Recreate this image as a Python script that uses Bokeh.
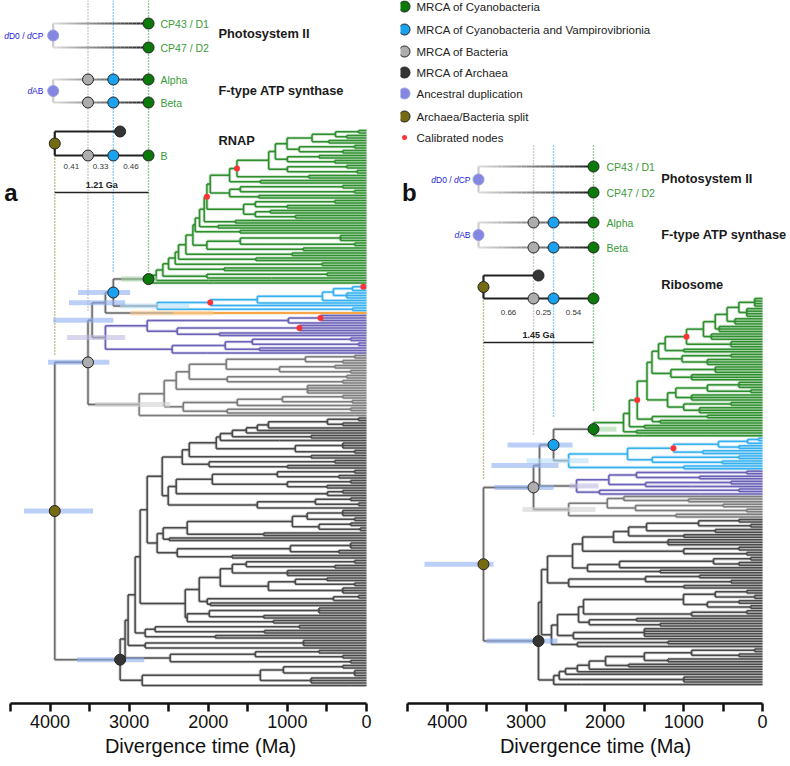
import re
from bokeh.plotting import figure
from bokeh.layouts import row
from bokeh.models import Range1d, FixedTicker, ColumnDataSource
from bokeh.core.properties import value
from bokeh.embed import file_html
from bokeh.resources import INLINE

FONT = value("Liberation Sans")

# Tree notation: "(children)age"  child = subtree or integer k (= k tips at 0 Ma)
# flags after age: ! calibrated node, @m MRCA marker, =c clade colour, {lo:hi:c} 95% HPD interval

def spine(start, ages, sides):
    s = start
    for a, sd in zip(ages, sides):
        s = "(" + s + "," + sd + ")" + str(a)
    return s

# ---------------- panel a (RNAP) ----------------
GA_TOP = "((((((2)100,(2)250)392,(2)477)688,((2)150,(2)300)850)1004,((2)600,(2)400)1000)1152,((2)250,(2)120)1000)1236"
GA_RED1 = "(" + GA_TOP + ",(2)730)1637!"
GA_UP = "(" + GA_RED1 + ",(2)1342)1730"
GA_LO = "(((2)300,(2)150)1595,(2)1363)1730"
GA_RED2 = "((" + GA_UP + "," + GA_LO + ")1975,(((2)400,(2)1004)1405,((2)1215,(2)900)1405)1553)2017!"
GA_SPINE_AGES = [2051, 2110, 2165, 2194, 2283, 2376, 2418, 2502, 2574, 2658, 2755]
GA_SPINE_SIDES = ["(2)1658", "(2)1877", "(2)1600", "(((3)329,(2)150)1595,(2)800)2017", "(2)941",
                  "(2)1400", "(2)561", "(2)1800", "((2)500,(1)1200)2017", "(1)1996", "(1)1932"]
GREEN_A = spine(GA_RED2, GA_SPINE_AGES, GA_SPINE_SIDES)
BLUE_A = "(((((((2)40!,1)177,(3)250)418,1)557,1)1380,1)1975!,(2)177)2646"
ORANGE_A = "(1)2443"
PURPLE_A = "((((3)582!,1)987,((3)848!,(2)1860)2392)2772,((((2)200,(2)100)1443,(2)1354)1785,(1)2013)2456)3300"
LA_2405 = "(((((2)150,(2)300)772,((2)400,(2)200)1100)1772,((2)250,(2)300)1760)2240,(4)747)2405"
LA_2316 = "((((2)300,(2)180)1063,(1)600)1633,((2)200,(1)400)1760)2316"
LG_A = "((" + LA_2405 + "," + LA_2316 + ")2557,(1)150)2873"
AU_TOP = spine("((2)100,(2)300)494", [1240, 1380, 1519, 1696, 1848, 1899, 2240, 2329],
               ["1", "1", "1", "(2)700", "(1)1100", "((3)300,(2)150)900", "(2)700", "((2)400,(2)1000)1990"])
AU_BOT = "(((((2)150,(2)350)1127,((2)200,(2)500)1000)1949,((2)300,1)494)2405,(((2)200,(2)100)646,1)1380)2506"
AS5 = "(" + spine("(((3)300,(2)150)750,((2)200,(2)80)600)937", [2266, 2570], ["(2)1300", "(2)2494"]) + \
      ",(((3)200,(2)350)962,(2)1700)2392)2646"
AS4 = "(((" + "(((2)150,(2)400)1520,(3)1000)1696" + "," + "(((2)500,(2)150)900,(3)300)1240" + ")1848," + \
      "(((2)100,(1)400)418,(2)1975)2013" + ")2114," + "(((3)600,(2)1300)1987,(2)1177)2266" + ")2291"
A5 = "((" + AU_TOP + "," + AU_BOT + ")2582," + AS5 + ")2772"
ARCH_A = spine(A5, [2861, 2924, 3013, 3051, 3114],
               [AS4, "(((2)850,(2)1290)2671,(2)1911)2797", "((3)797,1)2797",
                "(((2)600,(2)300)1405,(2)200)2481", "((((2)300,(3)150)1050,(3)700)1342,(1)200)2835"])
TREE_A = ("(((((" + GREEN_A + "=g@g{3100:2650:lg}," + BLUE_A + "=c{3114:2240:hb2})3200@b{3646:2987:hb}," +
          ORANGE_A + "=r{2987:1937:lo})3300{3760:3050:hb}," + PURPLE_A + "=p{3785:3050:lav})3468{3960:3200:hb}," +
          LG_A + "=l{3430:2480:lgr})3520@s{4025:3250:hb}," + ARCH_A + "=k@k{3658:2810:hb})3940@o{4329:3456:hb}")

# ---------------- panel b (Ribosome) ----------------
GB_TOP = spine("((4)100,(4)200)300", ["450", "600", "750", "965!"], ["(3)350", "(3)550", "(3)650", "(3)400"])
GREEN_B = spine(GB_TOP, ["1235", "1320", "1403", "1466", "1590!", "1690", "1764", "2145"],
                ["(2)1000", "((2)400,(3)700)1021", "((3)600,(3)900)1163",
                 "((((3)300,(2)150)700,(3)900)1100,((2)400,(3)800)1000)1205",
                 "((2)700,(2)1300)1400", "(2)1500", "(2)1600", "(1)1510"])
BLUE_B = "((((((2)50,1)190,(2)300)560,(2)760)1130!,((2)300,(2)510)1400)1713,(2)1000)2460"
PURPLE_B = "((((2)200,(2)800)1600,((2)400,(1)900)1485)1950,((2)300,(1)800)2070)2360"
LG_B = "((((1)300,(2)940)1760,((2)500,(2)200)1612)1970,(2)1100)2460"
BU_UU = "((" + spine("((2)300,(2)150)812", [1472, 1700, 1891, 2284],
                     ["(2)600", "(2)1000", "(3)1200", "((2)300,(2)200)1000"]) + \
        ",((((2)150,(2)300)622,1)1815,(2)1300)2221)2411,(((2)800,(2)400)1485,(2)1000)2460)2729"
BU_UL = spine("(((2)200,(2)100)600,((2)300,(2)150)700)1003", [2272, 2335, 2602, 2678],
              ["((2)200,(1)500)900", "((2)1600,(2)1300)2200", "((4)1500,(1)2000)2400", "((2)1200,(1)2000)2350"])
BU_BOT = spine("((2)100,(2)300)900", [1500, 1992, 2200, 2350, 2500, 2580, 2650],
               ["(2)1200", "(2)1700", "1", "1", "1", "(3)1000", "(1)2300"])
ARCH_B = "((" + BU_UU + "," + BU_UL + ")2805," + BU_BOT + ")2843"
TREE_B = ("((((" + GREEN_B + "=g@g{2145:1853:lg}," + BLUE_B + "=c{2995:2208:hb2})2652@b{3236:2411:hb}," +
          PURPLE_B + "=p{2450:2080:lav})2830{3440:2590:hb}," + LG_B + "=l{3046:2119:lgr})2906@s{3400:2650:hb}," +
          ARCH_B + "=k@k{3503:2602:hb})3541@o{4289:3414:hb}")

DUP_AGE = {"a": 3960, "b": 3604}
SCALE_TXT = {"a": "1.21 Ga", "b": "1.45 Ga"}
BRANCH_TXT = {"a": ["0.41", "0.33", "0.46"], "b": ["0.66", "0.25", "0.54"]}
GENES = [["CP43 / D1", "CP47 / D2"], ["Alpha", "Beta"]]
THIRD = {"a": ("RNAP", "B"), "b": ("Ribosome", "")}
TITLES = ["Photosystem II", "F-type ATP synthase"]
LEG_LABELS = ["MRCA of Cyanobacteria", "MRCA of Cyanobacteria and Vampirovibrionia", "MRCA of Bacteria",
              "MRCA of Archaea", "Ancestral duplication", "Archaea/Bacteria split", "Calibrated nodes"]
LEG_KEYS = ["g", "b", "s", "k", "d", "o", "cal"]
TICKS = [0, 1000, 2000, 3000, 4000]
MINOR = [500, 1500, 2500, 3500, 4500]

# ---------------- styling ----------------
CLADE = {"t": "#6b6b6b", "g": "#2f8f2f", "c": "#36b0ef", "r": "#f5921e", "p": "#6a62b6", "l": "#7d7d7d", "k": "#4a4a4a"}
BARC = {"hb": "#8fb0f2", "hb2": "#b8defa", "lg": "#a3d3a3", "lav": "#bdbbe0", "lgr": "#d2d2d2", "lo": "#f9cf98"}
MK = {"g": "#0b7a0b", "b": "#1aa2ef", "s": "#adadad", "k": "#353535", "o": "#746b12", "d": "#8487e0", "cal": "#ff3333"}
GUIDE = {"o": "#8c7f22", "s": "#9a9a9a", "b": "#1aa2ef", "g": "#2a9a2a"}
LBL_GREEN = "#3a9a3a"
DUP_BLUE = "#2424d6"


def parse(s):
    s = s.replace(" ", "")
    st = {"p": 0}

    def num():
        m = re.match(r"\d+(\.\d+)?", s[st["p"]:])
        st["p"] += len(m.group())
        return float(m.group())

    def node():
        st["p"] += 1
        kids = []
        while True:
            if s[st["p"]] == "(":
                kids.append(node())
            else:
                kids.append(int(num()))
            c = s[st["p"]]
            st["p"] += 1
            if c == ")":
                break
        nd = {"age": num(), "kids": kids, "cal": False, "mk": None, "col": None, "bar": None}
        while st["p"] < len(s) and s[st["p"]] in "!@={":
            c = s[st["p"]]
            if c == "!":
                nd["cal"] = True
                st["p"] += 1
            elif c == "@":
                nd["mk"] = s[st["p"] + 1]
                st["p"] += 2
            elif c == "=":
                nd["col"] = s[st["p"] + 1]
                st["p"] += 2
            else:
                e = s.index("}", st["p"])
                lo, hi, bc = s[st["p"] + 1:e].split(":")
                nd["bar"] = (float(lo), float(hi), bc)
                st["p"] = e + 1
        return nd

    t = node()
    assert st["p"] == len(s), (st["p"], len(s))
    return t


def count(nd):
    return sum(k if isinstance(k, int) else count(k) for k in nd["kids"])


def layout_tree(tree, y_top, y_bot):
    n = count(tree)
    step = (y_bot - y_top) / (n - 1)
    state = {"i": 0}
    segs = {"x0": [], "y0": [], "x1": [], "y1": [], "c": []}
    marks, cals, bars = [], [], []

    def seg(a, b, c, d, col):
        segs["x0"].append(a); segs["y0"].append(b); segs["x1"].append(c); segs["y1"].append(d)
        segs["c"].append(CLADE[col])

    def rec(nd, col):
        col = nd["col"] or col
        ys = []
        for k in nd["kids"]:
            if isinstance(k, int):
                for _ in range(k):
                    y = y_top + state["i"] * step
                    state["i"] += 1
                    seg(nd["age"], y, 0, y, col)
                    ys.append(y)
            else:
                y = rec(k, col)
                seg(nd["age"], y, k["age"], y, col)
                ys.append(y)
        seg(nd["age"], min(ys), nd["age"], max(ys), col)
        y = (min(ys) + max(ys)) / 2
        if nd["mk"]:
            marks.append((nd["age"], y, nd["mk"]))
        if nd["cal"]:
            cals.append((nd["age"], y))
        if nd["bar"]:
            bars.append((nd["bar"][0], nd["bar"][1], y, nd["bar"][2]))
        return y

    rec(tree, "t")
    return segs, marks, cals, bars


def txt(p, x, y, t, size, color="#222222", align="left", style="normal"):
    p.text(x=[x], y=[y], text=[t], text_font=FONT, text_font_size=value(size), text_color=color,
           text_align=align, text_baseline="middle", text_font_style=style)


def grad(p, a0, a1, y, c0=(222, 222, 222), c1=(28, 28, 28), n=24, w=2.2):
    xs = [a0 + (a1 - a0) * i / n for i in range(n + 1)]
    cols = ["#%02x%02x%02x" % tuple(int(c0[j] + (c1[j] - c0[j]) * (i + 0.5) / n) for j in range(3)) for i in range(n)]
    p.segment(xs[:-1], [y] * n, xs[1:], [y] * n, line_color=cols, line_width=w)


CW = {"d": 0.556, "D": 0.722, "0": 0.556, " ": 0.278, "/": 0.278, "C": 0.722, "P": 0.667, "A": 0.667, "B": 0.667}


def dup_label(p, x_end, y, pieces, size_px, ma_per_px):
    x = x_end
    for t, sty in reversed(pieces):
        txt(p, x, y, t, "%.1fpx" % size_px, DUP_BLUE, "right", sty)
        x += sum(CW[c] for c in t) * size_px * ma_per_px


def make_panel(key, tree_str, xr, y_tip, cfg):
    p = figure(frame_width=cfg["fw"], frame_height=703, x_range=Range1d(*xr), y_range=Range1d(703, 0),
               output_backend="svg", toolbar_location=None, y_axis_location=None, min_border=0,
               outline_line_color=None)
    p.xgrid.visible = False
    p.ygrid.visible = False
    ax = p.xaxis[0]
    ax.ticker = FixedTicker(ticks=TICKS, minor_ticks=MINOR)
    ax.bounds = (0, 4500)
    ax.axis_line_width = 2.5
    ax.axis_line_color = "#111111"
    for a in ("major", "minor"):
        setattr(ax, a + "_tick_line_width", 2.5)
        setattr(ax, a + "_tick_line_color", "#111111")
        setattr(ax, a + "_tick_out", 8)
        setattr(ax, a + "_tick_in", 0)
    ax.major_label_text_font = "Liberation Sans"
    ax.major_label_text_font_size = "18px"
    ax.major_label_text_color = "#111111"
    ax.major_label_standoff = 3
    ax.axis_label = "Divergence time (Ma)"
    ax.axis_label_text_font = "Liberation Sans"
    ax.axis_label_text_font_size = "20px"
    ax.axis_label_text_font_style = "normal"
    ax.axis_label_text_color = "#111111"
    ax.axis_label_standoff = 4

    tree = parse(tree_str)
    segs, marks, cals, bars = layout_tree(tree, *y_tip)
    mk = {m: a for a, y, m in marks}
    mk["d"] = DUP_AGE[key]
    mpp = cfg["mpp"]

    # dotted guides
    for g, y0, y1 in cfg["guides"]:
        p.segment([mk[g]], [y0], [mk[g]], [y1], line_color=GUIDE[g], line_width=1.4, line_dash="1 2")

    # tree (soft halo + line)
    src = ColumnDataSource(segs)
    p.segment(x0="x0", y0="y0", x1="x1", y1="y1", line_color="c", line_width=3.2, line_alpha=0.28, source=src)
    p.segment(x0="x0", y0="y0", x1="x1", y1="y1", line_color="c", line_width=1.5, source=src)
    p.segment([b[0] for b in bars], [b[2] for b in bars], [b[1] for b in bars], [b[2] for b in bars],
              line_color=[BARC[b[3]] for b in bars], line_width=5, line_alpha=0.6)
    p.scatter([c[0] for c in cals], [c[1] for c in cals], size=6, color=MK["cal"], line_color=None)
    p.scatter([m[0] for m in marks], [m[1] for m in marks], size=11, fill_color=[MK[m[2]] for m in marks],
              line_color="#222222", line_width=1)

    # insets
    (y1, y2), (y3, y4), (y5, y6) = cfg["rows"]
    d = mk["d"]
    for ya, yb, chain in ((y1, y2, ["g"]), (y3, y4, ["s", "b", "g"])):
        p.segment([d], [ya], [d], [yb], line_color="#cccccc", line_width=2.2)
        grad(p, d, mk["g"], ya)
        grad(p, d, mk["g"], yb)
        for c in chain:
            p.scatter([mk[c], mk[c]], [ya, yb], size=11, fill_color=MK[c], line_color="#222222", line_width=1)
        p.scatter([d], [(ya + yb) / 2], size=11, fill_color=MK["d"], line_color="#9c9ee8", line_width=1)
    o = mk["o"]
    p.segment([o, o, o], [y5, y5, y6], [o, mk["k"], mk["g"]], [y6, y5, y6], line_color="#222222", line_width=2.2)
    p.scatter([o, mk["k"], mk["s"], mk["b"], mk["g"]], [(y5 + y6) / 2, y5, y6, y6, y6], size=11,
              fill_color=[MK["o"], MK["k"], MK["s"], MK["b"], MK["g"]], line_color="#222222", line_width=1)
    chain = [o, mk["s"], mk["b"], mk["g"]]
    for i, t in enumerate(BRANCH_TXT[key]):
        txt(p, (chain[i] + chain[i + 1]) / 2, cfg["num_y"], t, "8px", "#333333", "center")
    p.segment([o], [cfg["bar_y"]], [mk["g"]], [cfg["bar_y"]], line_color="#222222", line_width=1.3)
    txt(p, (o + mk["g"]) / 2, cfg["bar_y"] - 8, SCALE_TXT[key], "9px", "#222222", "center", "bold")

    lx = cfg["lbl_x"]
    for (ta, tb), (ya, yb) in zip(GENES, ((y1, y2), (y3, y4))):
        txt(p, lx, ya, ta, "10.5px", LBL_GREEN)
        txt(p, lx, yb, tb, "10.5px", LBL_GREEN)
    if THIRD[key][1]:
        txt(p, lx, y6, THIRD[key][1], "10.5px", LBL_GREEN)
    tx = cfg["title_x"]
    for t, y in zip(TITLES + [THIRD[key][0]], cfg["title_y"]):
        txt(p, tx, y, t, "12.8px", "#1a1a1a", "left", "bold")
    dup_label(p, cfg["dup_x"], (y1 + y2) / 2, [("d", "italic"), ("D0 / ", "normal"), ("d", "italic"), ("CP", "normal")], 8.5, mpp)
    dup_label(p, cfg["dup_x"], (y3 + y4) / 2, [("d", "italic"), ("AB", "normal")], 8.5, mpp)
    txt(p, cfg["letter_x"], 192, key, "24px", "#111111", "left", "bold")
    return p, mk


cfg_a = dict(fw=400, mpp=12.64, guides=[("o", 155, 355), ("s", 0, 312), ("b", 0, 272), ("g", 0, 272)],
             rows=[(23, 47), (79, 102), (131, 155)], num_y=166, bar_y=192, lbl_x=2604, title_x=1871,
             title_y=[33, 90, 140], dup_x=4083, letter_x=4580)
cfg_b = dict(fw=390, mpp=12.69, guides=[("o", 300, 478), ("s", 145, 435), ("b", 145, 418), ("g", 145, 410)],
             rows=[(166, 192), (222, 247), (275, 298)], num_y=312, bar_y=342, lbl_x=1980, title_x=1285,
             title_y=[178, 234, 284], dup_x=3706, letter_x=4575)

pa, mka = make_panel("a", TREE_A, (4626, -430), (130, 685), cfg_a)
pb, mkb = make_panel("b", TREE_B, (4594, -355), (298, 684), cfg_b)

# legend (panel b area)
leg_y = [6, 29, 51, 72, 93, 116, 137]
pb.scatter([4543] * 6, leg_y[:6], size=11, fill_color=[MK[k] for k in LEG_KEYS[:6]],
           line_color=["#222222"] * 4 + ["#9c9ee8", "#222222"], line_width=1)
pb.scatter([4543], [leg_y[6]], size=5, color=MK["cal"], line_color=None)
pb.text(x=[4391] * 7, y=leg_y, text=LEG_LABELS, text_font=FONT, text_font_size=value("11.5px"),
        text_color="#222222", text_baseline="middle")

layout = row(pa, pb)
open("out.html", "w").write(file_html(layout, INLINE))
